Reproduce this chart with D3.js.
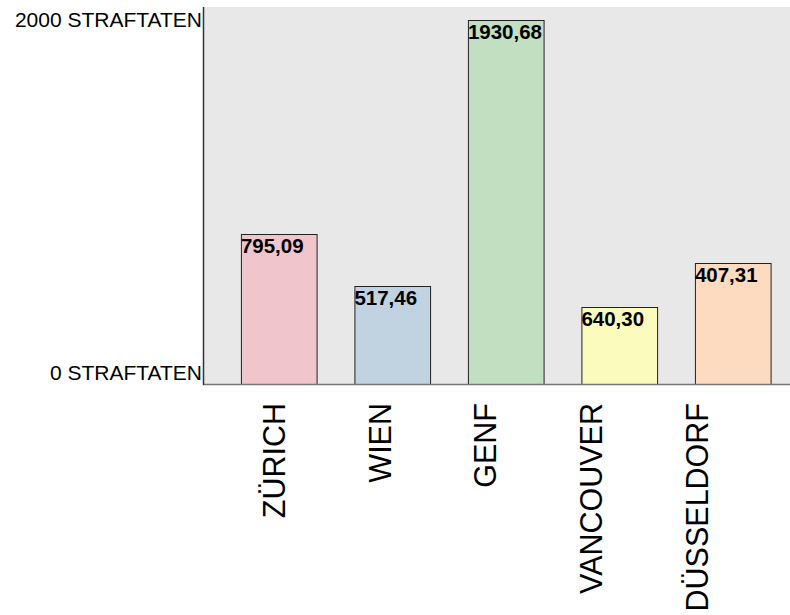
<!DOCTYPE html>
<meta charset="utf-8">
<body style="margin:0;background:#fff">
<svg id="chart"></svg>
<script src="https://cdn.jsdelivr.net/npm/d3@7"></script>
<script>
// categories and values
var cities = ["ZÜRICH", "WIEN", "GENF", "VANCOUVER", "DÜSSELDORF"];
var crimes = [795.09, 517.46, 1930.68, 407.31, 640.30];
// labels printed on the bars (as in the original, the last two are swapped)
var barLabels = ["795,09", "517,46", "1930,68", "640,30", "407,31"];
var colors = ["#f0c5cb", "#c1d3e1", "#c2dfc1", "#fbfbbe", "#fddbc0"];
var yTicks = [0, 2000];

var width = 790, height = 615;
var plotLeft = 203, plotTop = 7, plotBottom = 384;

var svg = d3.select("#chart")
    .attr("width", width)
    .attr("height", height)
    .style("font-family", "'Liberation Sans', Arial, sans-serif");

var x = d3.scaleBand()
    .domain(cities)
    .range([222, 789.5])
    .paddingInner(1/3)
    .paddingOuter(1/6);

// the city names sit on their own spacing, a bit tighter than the bars
var xl = d3.scalePoint()
    .domain(cities)
    .range([275, 697.5]);

var y = d3.scaleLinear()
    .domain([0, 2000])
    .range([plotBottom, plotTop]);

svg.append("rect")
    .attr("x", plotLeft).attr("y", plotTop)
    .attr("width", width - plotLeft).attr("height", plotBottom - plotTop)
    .attr("fill", "#e8e8e8");

svg.selectAll("rect.bar")
  .data(crimes)
  .enter().append("rect")
    .attr("class", "bar")
    .attr("x", (d, i) => x(cities[i]) + 0.5)
    .attr("y", d => Math.round(y(d)) + 0.5)
    .attr("width", x.bandwidth())
    .attr("height", d => plotBottom - Math.round(y(d)))
    .attr("fill", (d, i) => colors[i])
    .attr("stroke", "#222")
    .attr("stroke-width", 1);

svg.selectAll("text.val")
  .data(crimes)
  .enter().append("text")
    .attr("class", "val")
    .attr("x", (d, i) => x(cities[i]))
    .attr("y", d => Math.round(y(d)) + 19)
    .attr("font-size", 20.5)
    .attr("font-weight", "bold")
    .attr("fill", "#000")
    .text((d, i) => barLabels[i]);

// axes lines
svg.append("line")
    .attr("x1", plotLeft).attr("x2", width)
    .attr("y1", plotBottom + 0.5).attr("y2", plotBottom + 0.5)
    .attr("stroke", "#777").attr("stroke-width", 1.5);
svg.append("line")
    .attr("x1", plotLeft + 0.5).attr("x2", plotLeft + 0.5)
    .attr("y1", plotTop).attr("y2", plotBottom + 1)
    .attr("stroke", "#333").attr("stroke-width", 1.5);

svg.selectAll("text.tick")
  .data(yTicks)
  .enter().append("text")
    .attr("class", "tick")
    .attr("x", plotLeft - 1)
    .attr("y", d => d === 0 ? y(d) - 4 : y(d) + 20)
    .attr("text-anchor", "end")
    .attr("font-size", 21)
    .attr("fill", "#000")
    .text(d => d + " STRAFTATEN");

svg.selectAll("text.cat")
  .data(cities)
  .enter().append("text")
    .attr("class", "cat")
    .attr("transform", d => "translate(" + xl(d) + ",403) rotate(-90)")
    .attr("dy", "0.33em")
    .attr("text-anchor", "end")
    .attr("font-size", 30.5)
    .attr("fill", "#000")
    .text(d => d);
</script>
</body>
